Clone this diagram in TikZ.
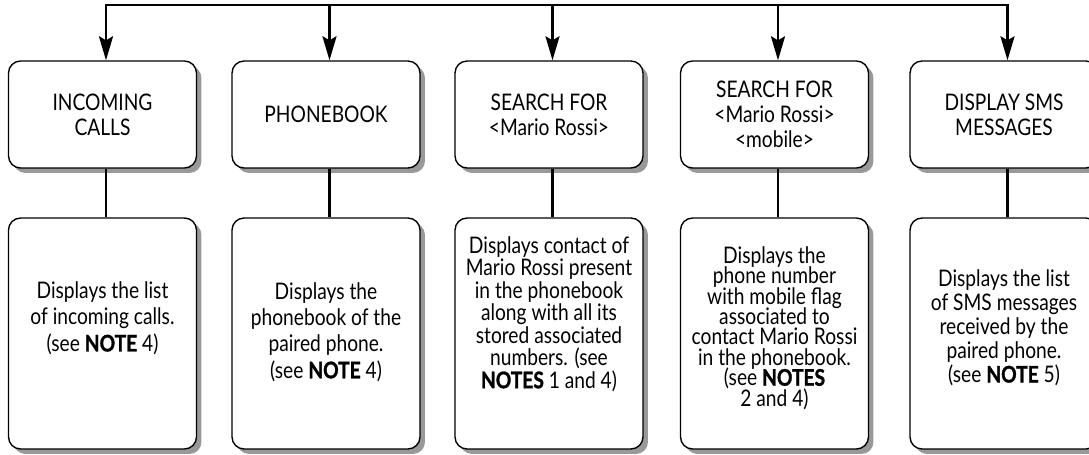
\documentclass[tikz,border=0pt]{standalone}
\usepackage{fontspec}
\setmainfont{Lato}[FakeStretch=0.84, BoldFeatures={FakeBold=1.3}]
\usetikzlibrary{positioning,arrows.meta,shadows}
\newcommand{\tightlines}{\lineskiplimit=-5pt\relax}

\begin{document}
\begin{tikzpicture}[
        x=0.02cm, y=-0.02cm,
        menubox/.style={rectangle, rounded corners=0.24cm, draw=black, line width=0.8pt, fill=white,
            minimum width=3.76cm, minimum height=2.14cm, inner sep=0pt, align=center,
            font=\fontsize{13}{14.2}\selectfont,
            drop shadow={shadow xshift=0.1cm, shadow yshift=-0.1cm, fill=black!40, opacity=1}},
        infobox/.style={menubox, minimum height=4.62cm},
        infotext/.style={align=center, inner sep=0pt, font={\fontsize{13}{#1}\selectfont\tightlines}},
        flow/.style={line width=1.5pt, draw=black},
        downarrow/.style={-{Stealth[length=0.48cm, width=0.28cm, inset=0.08cm]}},
        botharrow/.style={{Stealth[length=0.48cm, width=0.28cm, inset=0.08cm]}-{Stealth[length=0.48cm, width=0.28cm, inset=0.08cm]}}
    ]
    \clip (0,0) rectangle (1089,454);
    \coordinate (bus) at (0,5);

    % menu items
    \node[menubox] (calls) at (102.5,114.5) {INCOMING\\CALLS};
    \node[menubox] (book) at (326,114.5) {PHONEBOOK};
    \node[menubox] (search) at (549,114.5) {SEARCH FOR\\<Mario Rossi>};
    \node[menubox] (mobile) at (774.5,114.5) {SEARCH FOR\\<Mario Rossi>\\<mobile>};
    \node[menubox] (sms) at (1004,114.5) {DISPLAY SMS\\MESSAGES};

    % what each item shows
    \node[infobox] (callsinfo) at (102.5,333.5) {};
    \node[infobox] (bookinfo) at (326,333.5) {};
    \node[infobox] (searchinfo) at (549,333.5) {};
    \node[infobox] (mobileinfo) at (774.5,333.5) {};
    \node[infobox] (smsinfo) at (1004,333.5) {};

    \node[infotext=15.2pt] (callstext) at (102.5,318) {Displays the list\\of incoming calls.\\(see \textbf{NOTE} 4)};
    \node[infotext=15pt] (booktext) at (326,332) {Displays the\\phonebook of the\\paired phone.\\(see \textbf{NOTE} 4)};
    \node[infotext=12.8pt] (searchtext) at (549,314) {Displays contact of\\Mario Rossi present\\in the phonebook\\along with all its\\stored associated\\numbers. (see\\\textbf{NOTES} 1 and 4)};
    \node[infotext=11.6pt] (mobiletext) at (774.5,328) {Displays the\\phone number\\with mobile flag\\associated to\\contact Mario Rossi\\in the phonebook.\\(see \textbf{NOTES}\\2 and 4)};
    \node[infotext=13.6pt] (smstext) at (1004,328) {Displays the list\\of SMS messages\\received by the\\paired phone.\\(see \textbf{NOTE} 5)};

    % connectors, a little right of the box centres
    \foreach \b in {calls,book,search,mobile,sms} {
        \coordinate (\b top) at ([xshift=0.07cm]\b.north);
        \coordinate (\b bot) at ([xshift=0.07cm]\b.south);
        \coordinate (\b infotop) at ([xshift=0.07cm]\b info.north);
    }
    \draw[flow, botharrow] (callstop) -- (callstop |- bus) -- (smstop |- bus) -- (smstop);
    \foreach \b in {book,search,mobile}
        \draw[flow, downarrow] (\b top |- bus) -- (\b top);
    \foreach \b in {calls,book,search,mobile,sms}
        \draw[flow] (\b bot) -- (\b infotop);
\end{tikzpicture}
\end{document}
